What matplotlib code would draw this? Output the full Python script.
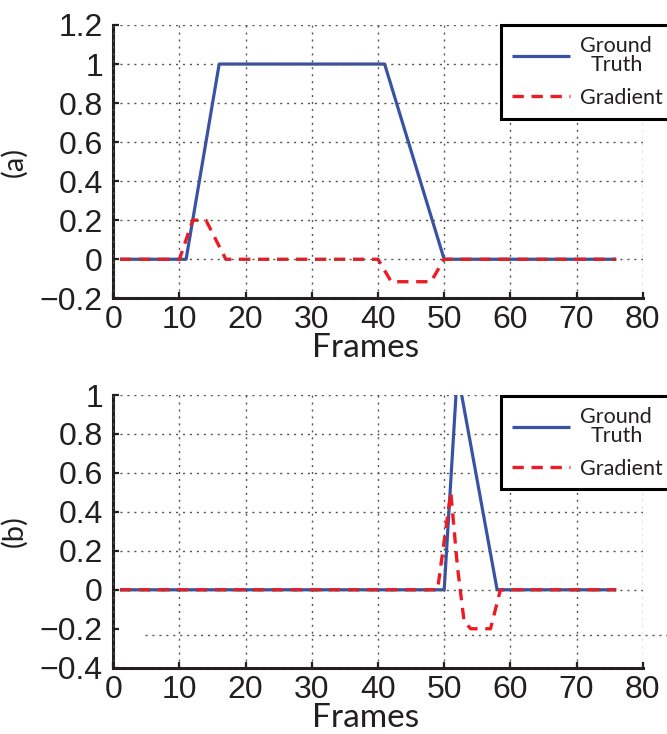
import matplotlib
matplotlib.use("Agg")
import matplotlib.pyplot as plt
from matplotlib.ticker import FuncFormatter

# ---- data ----
frames_gt_a = [1, 11, 16, 41, 50, 76]
gt_a = [0, 0, 1, 1, 0, 0]
frames_grad_a = [1, 10, 12, 14, 17, 40, 42, 48, 50, 76]
grad_a = [0, 0, 0.2, 0.2, 0, 0, -0.115, -0.115, 0, 0]

frames_gt_b = [1, 50, 52, 58, 76]
gt_b = [0, 0, 1.12, 0, 0]
frames_grad_b = [1, 49, 51, 52, 53, 54, 57, 58.5, 76]
grad_b = [0, 0, 0.5, 0.12, -0.16, -0.2, -0.2, 0, 0]

xticks = [0, 10, 20, 30, 40, 50, 60, 70, 80]
yticks_a = [-0.2, 0, 0.2, 0.4, 0.6, 0.8, 1.0, 1.2]
yticks_b = [-0.4, -0.2, 0, 0.2, 0.4, 0.6, 0.8, 1.0]
legend_labels = ["Ground\nTruth", "Gradient"]
panel_labels = ["(a)", "(b)"]
xlabel = "Frames"

BLUE = "#3953a4"
RED = "#ed1c24"
INK = "#231f20"
GRID = "#555555"
TICKFONT = "Liberation Sans"
TEXTFONT = "Lato"

W, H = 667, 734
fig = plt.figure(figsize=(W / 100, H / 100), dpi=100)


def fmt(v, pos):
    s = "%g" % round(v, 6)
    return s.replace("-", "\u2212")


def make_axes(rect, ylim, yticks, frames_gt, gt, frames_grad, grad, plabel, leg_y):
    ax = fig.add_axes(rect)
    ax.plot(frames_gt, gt, color=BLUE, lw=2.3, solid_capstyle="butt", label=legend_labels[0])
    ax.plot(frames_grad, grad, color=RED, lw=2.4, dashes=(3.4, 2.3), label=legend_labels[1])
    ax.set_xlim(0, 80)
    ax.set_ylim(*ylim)
    ax.set_xticks(xticks)
    ax.set_yticks(yticks)
    ax.xaxis.set_major_formatter(FuncFormatter(fmt))
    ax.yaxis.set_major_formatter(FuncFormatter(fmt))
    for s in ["top", "right"]:
        ax.spines[s].set_visible(False)
    for s in ["left", "bottom"]:
        ax.spines[s].set_linewidth(2.2)
        ax.spines[s].set_color(INK)
    ax.tick_params(direction="in", length=4, width=1.6, color=INK,
                   labelsize=23, labelcolor=INK, pad=7.5)
    ax.tick_params(axis="x", pad=5)
    for t in ax.get_xticklabels() + ax.get_yticklabels():
        t.set_fontfamily(TICKFONT)
    ax.grid(True, color=GRID, lw=1.0, linestyle=(0, (1.5, 3.5)))
    ax.set_axisbelow(False)
    ax.set_xlabel(xlabel, fontsize=24, family=TEXTFONT, color=INK)
    ax.xaxis.set_label_coords(0.477, -0.128)
    ax.set_ylabel(plabel, fontsize=21, family=TEXTFONT, color=INK)
    ax.yaxis.set_label_coords(-0.163, 0.5)
    leg = ax.legend(loc="upper left", bbox_to_anchor=(0.732, leg_y),
                    prop={"family": TEXTFONT, "size": 15.5},
                    handlelength=2.7, handletextpad=0.5, borderpad=0.5,
                    labelspacing=0.6, borderaxespad=0, fancybox=False,
                    framealpha=1, edgecolor="black")
    leg.get_frame().set_linewidth(2.2)
    for t in leg.get_texts():
        t.set_multialignment("center")
        t.set_linespacing(0.95)
        t.set_color(INK)
    return ax


left = 113.3 / W
width = 529.4 / W
ax1 = make_axes([left, 1 - 298.3 / H, width, 273.3 / H], (-0.2, 1.2), yticks_a,
                frames_gt_a, gt_a, frames_grad_a, grad_a, panel_labels[0], 1.0)
ax2 = make_axes([left, 1 - 667.7 / H, width, 272.7 / H], (-0.4, 1.0), yticks_b,
                frames_gt_b, gt_b, frames_grad_b, grad_b, panel_labels[1], 0.997)

# in panel (b) the -0.2 grid line sits slightly lower and runs past the axes
ax2.get_ygridlines()[1].set_visible(False)
ax2.axhline(-0.23, xmin=0.06, xmax=1.06, color=GRID, lw=1.0,
            linestyle=(0, (1.5, 3.5)), clip_on=False, zorder=0.5)

fig.savefig("out.png", dpi=100)
